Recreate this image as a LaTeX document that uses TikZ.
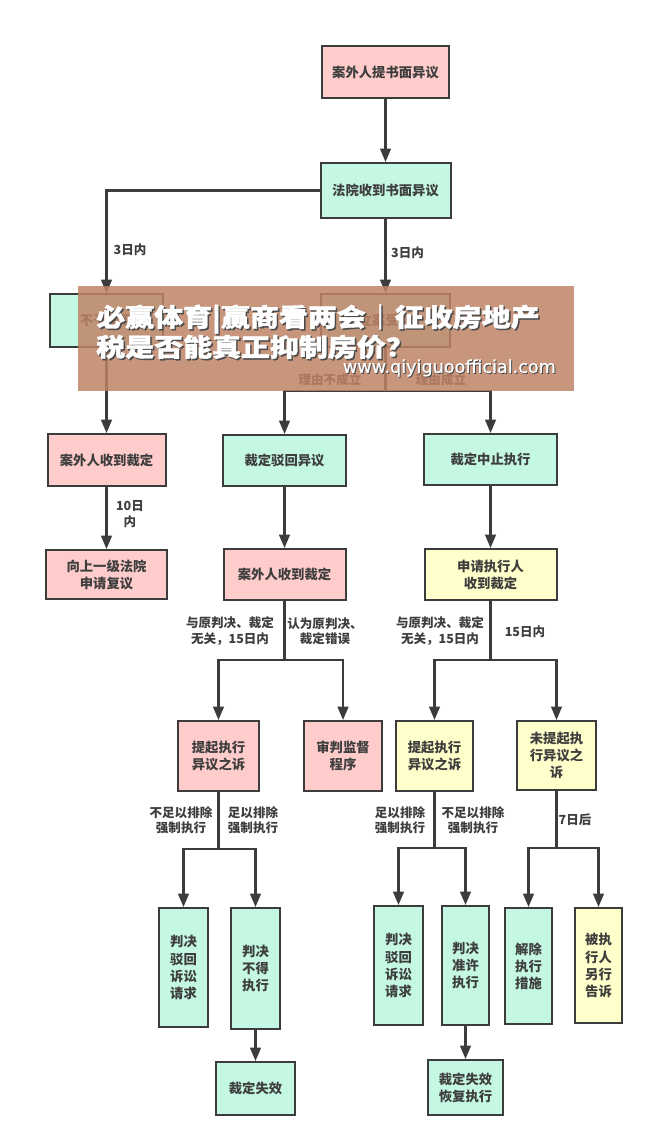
\documentclass[tikz,border=0pt]{standalone}
\usepackage{fontspec}
\usepackage{xcolor}
\usetikzlibrary{arrows.meta}
\newfontfamily\cjk{Noto Sans CJK SC}
\newfontfamily\cjkwide[FakeStretch=1.155,FakeBold=1.5]{Noto Sans CJK SC}
\newfontfamily\urlfont[FakeBold=0.6]{DejaVu Sans}
\definecolor{linegray}{RGB}{60,60,60}
\definecolor{textgray}{RGB}{62,62,62}
\definecolor{pinkbox}{RGB}{255,204,204}
\definecolor{greenbox}{RGB}{197,248,227}
\definecolor{yellowbox}{RGB}{255,255,204}
\definecolor{bannerfill}{RGB}{190,131,102}
\tikzset{
  flowbox/.style={draw=linegray,line width=1.5pt,rectangle,align=center,inner sep=0pt,text=textgray,font=\cjk\bfseries\fontsize{10}{12.8}\selectfont},
  pinkflow/.style={flowbox,fill=pinkbox},
  greenflow/.style={flowbox,fill=greenbox},
  yellowflow/.style={flowbox,fill=yellowbox},
  flowlabel/.style={align=center,inner sep=0pt,text=textgray,font=\cjk\bfseries\fontsize{9.4}{11.4}\selectfont},
  flowline/.style={draw=linegray,line width=1.6pt},
  flowarrow/.style={flowline,-{Triangle[length=10pt,width=8pt]}},
}
\begin{document}
\begin{tikzpicture}[x=0.75pt,y=0.75pt,yscale=-1,xscale=1]
\useasboundingbox (0,0) rectangle (652,1145);

% Boxes, top part
\node (shumian) [pinkflow,minimum width=95.25pt,minimum height=39pt] at (385.5,72) {案外人提书面异议};
\node (shoudao) [greenflow,minimum width=97.5pt,minimum height=41.25pt] at (385.5,190.5) {法院收到书面异议};
\node (buyu) [greenflow,minimum width=84.75pt,minimum height=39.75pt] at (106.5,320.5) {不予受理};
\node (lian) [greenflow,minimum width=96.75pt,minimum height=39.75pt] at (385.5,320.5) {立案受理};

% Boxes, left column
\node (caiding) [pinkflow,minimum width=88.5pt,minimum height=39pt] at (106.5,460) {案外人收到裁定};
\node (fuyi) [pinkflow,minimum width=90.75pt,minimum height=36.75pt] at (106.5,574.5) {向上一级法院\\申请复议};

% Boxes, middle column
\node (bohui) [greenflow,minimum width=92.25pt,minimum height=38.25pt] at (284.5,460.5) {裁定驳回异议};
\node (caidingb) [pinkflow,minimum width=91.5pt,minimum height=38.25pt] at (284.5,574.5) {案外人收到裁定};
\node (tiqia) [pinkflow,minimum width=60.75pt,minimum height=52.5pt] at (218.5,756) {提起执行\\异议之诉};
\node (shenpan) [pinkflow,minimum width=58.5pt,minimum height=52.5pt] at (343,756) {审判监督\\程序};
\node (panjuea) [greenflow,minimum width=36.75pt,minimum height=89.25pt] at (183.5,967.5) {判决\\驳回\\诉讼\\请求};
\node (panjueb) [greenflow,minimum width=36.75pt,minimum height=90.75pt] at (255.5,968.5) {判决\\不得\\执行};
\node (shixiao) [greenflow,minimum width=59.25pt,minimum height=39.75pt] at (255.5,1088.5) {裁定失效};

% Boxes, right column
\node (zhongzhi) [greenflow,minimum width=99.75pt,minimum height=38.25pt] at (490.5,459.5) {裁定中止执行};
\node (shenqing) [yellowflow,minimum width=99pt,minimum height=38.25pt] at (490.5,574.5) {申请执行人\\收到裁定};
\node (tiqib) [yellowflow,minimum width=57.75pt,minimum height=52.5pt] at (434.5,756) {提起执行\\异议之诉};
\node (weiti) [yellowflow,minimum width=59.25pt,minimum height=51.75pt] at (556.5,755.5) {未提起执\\行异议之\\诉};
\node (panjuec) [greenflow,minimum width=36.75pt,minimum height=89.25pt] at (398.5,965.5) {判决\\驳回\\诉讼\\请求};
\node (panjued) [greenflow,minimum width=35.25pt,minimum height=89.25pt] at (465.5,965.5) {判决\\准许\\执行};
\node (jiechu) [greenflow,minimum width=35.25pt,minimum height=87pt] at (528.5,966) {解除\\执行\\措施};
\node (gaosu) [yellowflow,minimum width=35.25pt,minimum height=86.25pt] at (598.5,965.5) {被执\\行人\\另行\\告诉};
\node (huifu) [greenflow,minimum width=56.25pt,minimum height=41.25pt] at (465.5,1087.5) {裁定失效\\恢复执行};

% Branch points
\coordinate (forka) at (385.5,391);
\coordinate (forkb) at (284.5,660);
\coordinate (forkc) at (490.5,660);
\coordinate (forkd) at (218.5,849);
\coordinate (forke) at (434.5,848);
\coordinate (forkf) at (556.5,848);

% Connectors
\draw [flowarrow] (shumian) -- (shoudao);
\draw [flowarrow] (shoudao) -| (buyu);
\draw [flowarrow] (shoudao) -- (lian);
\draw [flowarrow] (buyu) -- (caiding);
\draw [flowarrow] (caiding) -- (fuyi);
\draw [flowline] (lian) -- (forka);
\draw [flowarrow] (forka) -| (bohui);
\draw [flowarrow] (forka) -| (zhongzhi);
\draw [flowarrow] (bohui) -- (caidingb);
\draw [flowarrow] (zhongzhi) -- (shenqing);
\draw [flowline] (caidingb) -- (forkb);
\draw [flowarrow] (forkb) -| (tiqia);
\draw [flowarrow] (forkb) -| (shenpan);
\draw [flowline] (shenqing) -- (forkc);
\draw [flowarrow] (forkc) -| (tiqib);
\draw [flowarrow] (forkc) -| (weiti);
\draw [flowline] (tiqia) -- (forkd);
\draw [flowarrow] (forkd) -| (panjuea);
\draw [flowarrow] (forkd) -| (panjueb);
\draw [flowline] (tiqib) -- (forke);
\draw [flowarrow] (forke) -| (panjuec);
\draw [flowarrow] (forke) -| (panjued);
\draw [flowline] (weiti) -- (forkf);
\draw [flowarrow] (forkf) -| (jiechu);
\draw [flowarrow] (forkf) -| (gaosu);
\draw [flowarrow] (panjueb) -- (shixiao);
\draw [flowarrow] (panjued) -- (huifu);

% Text Node
\node (la) [flowlabel] at (130,250) {3日内};
\node (lb) [flowlabel] at (407.5,253) {3日内};
\node (lc) [flowlabel] at (330,380) {理由不成立};
\node (ld) [flowlabel] at (441,380) {理由成立};
\node (le) [flowlabel] at (130,514) {10日\\内};
\node (lf) [flowlabel] at (230,631) {与原判决、裁定\\无关，15日内};
\node (lg) [flowlabel] at (325,631) {认为原判决、\\裁定错误};
\node (lh) [flowlabel] at (440,631) {与原判决、裁定\\无关，15日内};
\node (li) [flowlabel] at (525,632) {15日内};
\node (lj) [flowlabel] at (181,820) {不足以排除\\强制执行};
\node (lk) [flowlabel] at (253,820) {足以排除\\强制执行};
\node (ll) [flowlabel] at (400,820) {足以排除\\强制执行};
\node (lm) [flowlabel] at (473,820) {不足以排除\\强制执行};
\node (ln) [flowlabel] at (575,820) {7日后};

% Banner over the chart
\fill [bannerfill,fill opacity=0.85] (78,286) rectangle (574,391);
\tikzset{bannertext/.style={anchor=west,inner sep=0pt,font=\cjkwide\bfseries\fontsize{18.8}{21}\selectfont},
  urltext/.style={anchor=east,inner sep=0pt,font=\urlfont\fontsize{13.2}{15}\selectfont}}
\node (titlea) [bannertext,text=black!70] at (97.5,320.5) {必赢体育|赢商看两会｜征收房地产};
\node (titleb) [bannertext,text=black!70] at (97.5,348.5) {税是否能真正抑制房价？};
\node (titlec) [bannertext,text=white] at (96,319) {必赢体育|赢商看两会｜征收房地产};
\node (titled) [bannertext,text=white] at (96,347) {税是否能真正抑制房价？};
\node (urla) [urltext,text=black!70] at (557,369) {www.qiyiguoofficial.com};
\node (urlb) [urltext,text=white] at (556,368) {www.qiyiguoofficial.com};
\end{tikzpicture}
\end{document}
